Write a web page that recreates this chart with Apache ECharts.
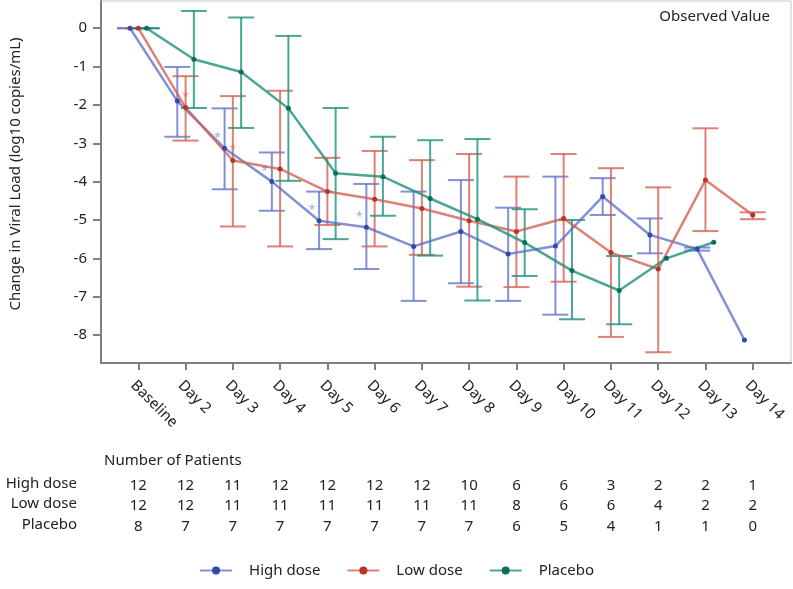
<!DOCTYPE html>
<html><head><meta charset="utf-8">
<script src="https://cdn.jsdelivr.net/npm/echarts@6/dist/echarts.min.js"></script>
<style>html,body{margin:0;padding:0;background:#fff}#c{width:793px;height:589px}</style>
</head><body><div id="c"></div>
<script>
// ---- data ----
const categories = ['Baseline','Day 2','Day 3','Day 4','Day 5','Day 6','Day 7','Day 8','Day 9','Day 10','Day 11','Day 12','Day 13','Day 14'];
const yTicks = [0,-1,-2,-3,-4,-5,-6,-7,-8];

const highMean = [0,-1.90,-3.13,-4.00,-5.02,-5.19,-5.69,-5.30,-5.89,-5.68,-4.39,-5.39,-5.76,-8.13];
const highLow  = [0,-2.83,-4.20,-4.76,-5.76,-6.28,-7.11,-6.65,-7.11,-7.47,-4.87,-5.87,-5.80,null];
const highHigh = [0,-1.01,-2.09,-3.24,-4.26,-4.06,-4.26,-3.96,-4.68,-3.87,-3.91,-4.96,-5.72,null];

const lowMean = [0,-2.07,-3.45,-3.67,-4.26,-4.46,-4.70,-5.02,-5.30,-4.96,-5.85,-6.28,-3.96,-4.87];
const lowLow  = [0,-2.93,-5.17,-5.69,-5.13,-5.69,-5.91,-6.74,-6.75,-6.61,-8.05,-8.45,-5.29,-4.98];
const lowHigh = [0,-1.25,-1.77,-1.63,-3.38,-3.20,-3.44,-3.28,-3.87,-3.28,-3.65,-4.15,-2.61,-4.80];

const placMean = [0,-0.81,-1.14,-2.09,-3.78,-3.87,-4.44,-4.98,-5.59,-6.32,-6.84,-6.00,-5.58,null];
const placLow  = [0,-2.08,-2.60,-3.98,-5.50,-4.89,-5.93,-7.10,-6.46,-7.59,-7.72,null,null,null];
const placHigh = [0,0.45,0.28,-0.20,-2.08,-2.83,-2.92,-2.89,-4.72,-5.00,-5.94,null,null,null];

// category indexes flagged with an asterisk
const highSig = [2,3,4,5];
const lowSig = [1,2];

const highN = [12,12,11,12,12,12,12,10,6,6,3,2,2,1];
const lowN  = [12,12,11,11,11,11,11,11,8,6,6,4,2,2];
const placN = [8,7,7,7,7,7,7,7,6,5,4,1,1,0];

const seriesNames = ['High dose','Low dose','Placebo'];

// ---- build ----
const FONT = 'Noto Sans';
const TXT = '#222';
const groups = [
  {name: seriesNames[0], mean: highMean, lo: highLow, hi: highHigh, sig: highSig, off: -0.175, line: 'rgba(88,108,200,0.75)', dot: '#3447ad', sigDx: -7},
  {name: seriesNames[1], mean: lowMean,  lo: lowLow,  hi: lowHigh,  sig: lowSig,  off: 0,      line: 'rgba(210,95,80,0.78)',  dot: '#b93426', sigDx: 0},
  {name: seriesNames[2], mean: placMean, lo: placLow, hi: placHigh, sig: [],      off: 0.175,  line: 'rgba(28,145,120,0.8)',  dot: '#0d6e59', sigDx: 0}
];

const series = [];
groups.forEach(g => {
  series.push({
    type: 'custom', name: g.name + ' err', silent: true, z: 2,
    data: g.mean.map((v, i) => (g.lo[i] == null ? null : [i + g.off, g.lo[i], g.hi[i]])).filter(d => d),
    encode: {x: 0, y: [1, 2]},
    renderItem: (params, api) => {
      const x = api.value(0);
      const p1 = api.coord([x, api.value(1)]);
      const p2 = api.coord([x, api.value(2)]);
      const w = 13;
      const st = {stroke: g.line, lineWidth: 2};
      return {type: 'group', children: [
        {type: 'line', shape: {x1: p1[0], y1: p1[1], x2: p2[0], y2: p2[1]}, style: st},
        {type: 'line', shape: {x1: p1[0] - w, y1: p1[1], x2: p1[0] + w, y2: p1[1]}, style: st},
        {type: 'line', shape: {x1: p2[0] - w, y1: p2[1], x2: p2[0] + w, y2: p2[1]}, style: st}
      ]};
    }
  });
});
groups.forEach(g => {
  series.push({
    type: 'line', name: g.name, z: 3,
    data: g.mean.map((v, i) => (v == null ? null : [i + g.off, v])).filter(d => d),
    symbol: 'circle', symbolSize: 5, showSymbol: true,
    lineStyle: {color: g.line, width: 2.5},
    itemStyle: {color: g.dot},
    emphasis: {disabled: true}
  });
});
groups.forEach(g => {
  if (!g.sig.length) return;
  series.push({
    type: 'scatter', name: g.name + ' sig', z: 4, silent: true,
    data: g.sig.map(i => [i + g.off, g.mean[i]]),
    symbolSize: 1, itemStyle: {color: 'rgba(0,0,0,0)'},
    label: {show: true, formatter: '*', color: g.line, fontSize: 12, fontFamily: FONT, offset: [g.sigDx, -10], position: 'inside'}
  });
});

const XMIN = -0.79, XMAX = 13.81;
const idx = categories.map((c, i) => i);
function countAxis(arr, off) {
  return {
    type: 'value', gridIndex: 0, position: 'bottom', offset: off, min: XMIN, max: XMAX,
    axisLine: {show: false}, axisTick: {show: false}, splitLine: {show: false},
    axisLabel: {customValues: idx, formatter: v => String(arr[Math.round(v)]), color: TXT, fontSize: 15, fontFamily: FONT, margin: 0, showMinLabel: true, showMaxLabel: true}
  };
}

const option = {
  backgroundColor: '#fff',
  animation: false,
  textStyle: {fontFamily: FONT},
  grid: {left: 101, top: 1, right: 2, bottom: 226, show: true, borderColor: '#c8c8c8', borderWidth: 1},
  xAxis: [
    {
      type: 'value', min: XMIN, max: XMAX,
      axisLine: {show: true, onZero: false, lineStyle: {color: '#808080', width: 2}},
      axisTick: {show: true, customValues: idx, length: 7, lineStyle: {color: '#808080', width: 2}},
      axisLabel: {customValues: idx.map(i => i - 0.11), formatter: v => categories[Math.round(v + 0.11)], rotate: -45, margin: 20, color: TXT, fontSize: 15, fontFamily: FONT},
      splitLine: {show: false}
    },
    countAxis(highN, 115),
    countAxis(lowN, 135),
    countAxis(placN, 156)
  ],
  yAxis: {
    type: 'value', min: -8.73, max: 0.71,
    name: 'Change in Viral Load (log10 copies/mL)', nameLocation: 'middle', nameGap: 78,
    nameTextStyle: {color: TXT, fontSize: 15, fontFamily: FONT, padding: [0, 0, 0, 16]},
    axisLine: {show: true, onZero: false, lineStyle: {color: '#808080', width: 2}},
    axisTick: {show: true, customValues: yTicks, length: 8, lineStyle: {color: '#808080', width: 2}},
    axisLabel: {customValues: yTicks, color: TXT, fontSize: 15, fontFamily: FONT, margin: 14},
    splitLine: {show: false}
  },
  legend: {
    data: seriesNames, bottom: 6, left: 'center', itemWidth: 32, itemHeight: 10, itemGap: 26,
    textStyle: {color: TXT, fontSize: 15, fontFamily: FONT, padding: [0, 0, 0, 12]}
  },
  graphic: [
    {type: 'text', right: 23, top: 9, style: {text: 'Observed Value', fill: TXT, font: '15px "Noto Sans"'}},
    {type: 'text', left: 104, top: 453, style: {text: 'Number of Patients', fill: TXT, font: '15px "Noto Sans"'}},
    {type: 'text', right: 716, top: 476, style: {text: seriesNames[0], fill: TXT, font: '15px "Noto Sans"', textAlign: 'right'}},
    {type: 'text', right: 716, top: 496, style: {text: seriesNames[1], fill: TXT, font: '15px "Noto Sans"', textAlign: 'right'}},
    {type: 'text', right: 716, top: 517, style: {text: seriesNames[2], fill: TXT, font: '15px "Noto Sans"', textAlign: 'right'}}
  ],
  series: series
};
const chart = echarts.init(document.getElementById('c'), null, {renderer: 'canvas'});
chart.setOption(option);
</script>
</body></html>
